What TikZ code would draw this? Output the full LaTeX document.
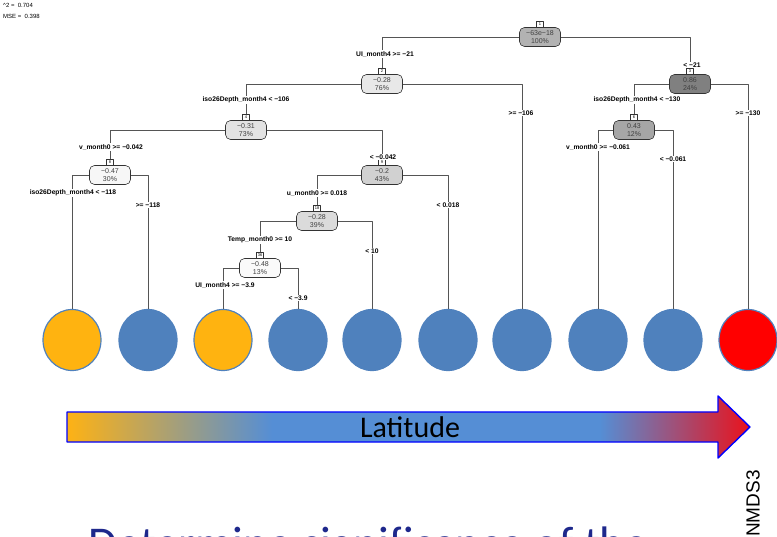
\documentclass[tikz,border=0pt]{standalone}
\usepackage{fontspec}
\setmainfont{Liberation Sans}
\newfontfamily\calibri{Carlito}
\usetikzlibrary{positioning,shapes.geometric}

\definecolor{leafblue}{RGB}{79,129,189}
\definecolor{leaforange}{RGB}{255,179,16}
\definecolor{leafred}{RGB}{255,0,0}
\definecolor{treeline}{RGB}{85,85,85}
\definecolor{shaftorange}{RGB}{254,178,20}
\definecolor{shaftblue}{RGB}{85,142,213}
\definecolor{shaftred}{RGB}{234,18,28}
\definecolor{titleblue}{RGB}{30,40,140}

% colour ramp of the latitude arrow (path box sits between 25bp and 75bp)
\pgfdeclarehorizontalshading{latramp}{100bp}{color(0bp)=(shaftorange); color(25bp)=(shaftorange);
  color(40bp)=(shaftblue); color(64bp)=(shaftblue); color(75bp)=(shaftred); color(100bp)=(shaftred)}

\tikzset{
  split/.style={draw=black!80, rounded corners=5pt, minimum width=41pt, minimum height=19pt,
    inner sep=1pt, align=center, font=\fontsize{7}{7.6}\selectfont, text=black!75, line width=0.6pt},
  idbox/.style={draw=black!80, fill=white, minimum width=7pt, minimum height=6pt, inner sep=0.4pt,
    font=\fontsize{4}{4}\selectfont, line width=0.5pt},
  cond/.style={fill=white, inner sep=0.8pt, font=\bfseries\fontsize{6.7}{7}\selectfont},
  leaf/.style={ellipse, minimum width=58pt, minimum height=61pt, inner sep=0pt, fill=leafblue, draw=leafblue, line width=1.2pt},
  edge/.style={draw=treeline, line width=0.8pt},
}

\begin{document}
\begin{tikzpicture}[x=1pt, y=-1pt, line join=round]
  \useasboundingbox (0,0) rectangle (777,537);

  % fit statistics
  \node[anchor=west, inner sep=0, font=\fontsize{6}{6}\selectfont] (rsq) at (3,5) {\^{}2 =~ 0.704};
  \node[anchor=west, inner sep=0, font=\fontsize{6}{6}\selectfont] (mse) at (3,16) {MSE =~ 0.398};

  % split nodes
  \node[split, fill=black!30] (n1) at (540,37) {−63e−18\\100\%};
  \node[split, fill=black!9] (n2) at (382,84) {−0.28\\76\%};
  \node[split, fill=black!50] (n3) at (690,84) {0.86\\24\%};
  \node[split, fill=black!11] (n4) at (246,130) {−0.31\\73\%};
  \node[split, fill=black!35] (n6) at (634,130) {0.43\\12\%};
  \node[split, fill=black!3] (n8) at (110,175) {−0.47\\30\%};
  \node[split, fill=black!18] (n9) at (382,175) {−0.2\\43\%};
  \node[split, fill=black!14] (n18) at (317,221) {−0.28\\39\%};
  \node[split, fill=black!2] (n36) at (260,268) {−0.48\\13\%};

  \foreach \n in {1,2,3,4,6,8,9,18,36}
    \node[idbox, above=0pt of n\n] (id\n) {\n};

  % leaves
  \node[leaf, fill=leaforange] (l1) at (72,340) {};
  \node[leaf] (l2) at (148,340) {};
  \node[leaf, fill=leaforange] (l3) at (223,340) {};
  \node[leaf] (l4) at (298,340) {};
  \node[leaf] (l5) at (372,340) {};
  \node[leaf] (l6) at (448,340) {};
  \node[leaf] (l7) at (522,340) {};
  \node[leaf] (l8) at (598,340) {};
  \node[leaf] (l9) at (673,340) {};
  \node[leaf, fill=leafred] (l10) at (748,340) {};

  % branches
  \draw[edge] (n1.west) -| (id2.north);
  \draw[edge] (n1.east) -| (id3.north);
  \draw[edge] (n2.west) -| (id4.north);
  \draw[edge] (n2.east) -| (l7.north);
  \draw[edge] (n3.west) -| (id6.north);
  \draw[edge] (n3.east) -| (l10.north);
  \draw[edge] (n4.west) -| (id8.north);
  \draw[edge] (n4.east) -| (id9.north);
  \draw[edge] (n6.west) -| (l8.north);
  \draw[edge] (n6.east) -| (l9.north);
  \draw[edge] (n8.west) -| (l1.north);
  \draw[edge] (n8.east) -| (l2.north);
  \draw[edge] (n9.west) -| (id18.north);
  \draw[edge] (n9.east) -| (l6.north);
  \draw[edge] (n18.west) -| (id36.north);
  \draw[edge] (n18.east) -| (l5.north);
  \draw[edge] (n36.west) -| (l3.north);
  \draw[edge] (n36.east) -| (l4.north);

  % split rules
  \node[cond] (c2) at (385,54) {UI\_month4 >= −21};
  \node[cond] (c3) at (692,65) {< −21};
  \node[cond] (c4) at (246,100) {iso26Depth\_month4 < −106};
  \node[cond] (c7) at (521,113) {>= −106};
  \node[cond] (c6) at (637,100) {iso26Depth\_month4 < −130};
  \node[cond] (c10) at (748,113) {>= −130};
  \node[cond] (c8) at (111,147) {v\_month0 >= −0.042};
  \node[cond] (c9) at (383,157) {< −0.042};
  \node[cond] (c12) at (598,147) {v\_month0 >= −0.061};
  \node[cond] (c13) at (673,159) {< −0.061};
  \node[cond] (c16) at (73,193) {iso26Depth\_month4 < −118};
  \node[cond] (c17) at (148,205) {>= −118};
  \node[cond] (c18) at (317,193) {u\_month0 >= 0.018};
  \node[cond] (c19) at (448,205) {< 0.018};
  \node[cond] (c36) at (260,240) {Temp\_month0 >= 10};
  \node[cond] (c37) at (372,251) {< 10};
  \node[cond] (c72) at (225,285) {UI\_month4 >= −3.9};
  \node[cond] (c73) at (298,298) {< −3.9};

  % latitude arrow
  \draw[draw=blue, line width=1.4pt, shading=latramp]
    (67,412) -- (718,412) -- (718,396) -- (750,427) -- (718,458) -- (718,442) -- (67,442) -- cycle;
  \node[font=\calibri\fontsize{30}{30}\selectfont] (lat) at (410,427) {Latitude};
  \node[rotate=90, anchor=west, inner sep=0, font=\fontsize{19}{19}\selectfont] (nmds) at (753,537) {NMDS3};

  \node[anchor=base west, inner sep=0, text=titleblue, font=\calibri\fontsize{47}{47}\selectfont] (title) at (88,559)
    {Determine significance of the};
\end{tikzpicture}
\end{document}
